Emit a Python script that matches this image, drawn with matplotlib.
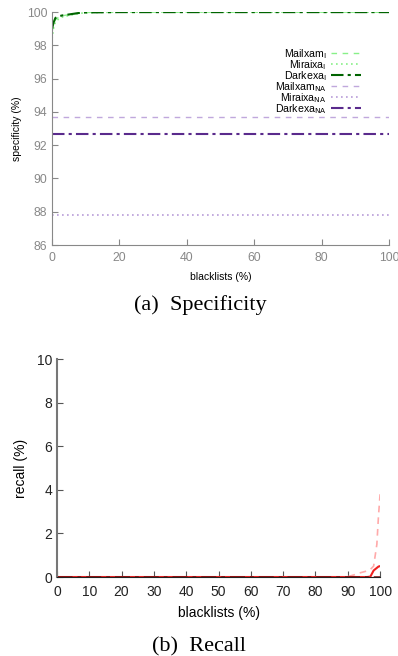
import matplotlib
matplotlib.use("Agg")
import matplotlib.pyplot as plt

plt.rcParams['font.family'] = ['Liberation Sans', 'DejaVu Sans']

# Specificity (a)
x_spec = [0, 0.5, 1, 2, 3, 5, 8, 10, 20, 40, 60, 80, 100]
mailxam_i = [98.8, 99.3, 99.55, 99.7, 99.78, 99.85, 99.95, 99.98, 100, 100, 100, 100, 100]
miraixa_i = [98.4, 99.1, 99.4, 99.6, 99.7, 99.8, 99.92, 99.97, 100, 100, 100, 100, 100]
darkexa_i = [99.0, 99.4, 99.65, 99.75, 99.8, 99.86, 99.95, 99.98, 100, 100, 100, 100, 100]
mailxam_na = [93.7] * len(x_spec)
miraixa_na = [87.8] * len(x_spec)
darkexa_na = [92.7] * len(x_spec)

# Recall (b)
x_rec = [0, 10, 20, 30, 40, 50, 60, 70, 80, 85, 88, 90, 92, 94, 96, 97, 98, 99, 99.5, 100]
recall_dashed = [0, 0, 0, 0, 0, 0, 0, 0, 0, 0, 0, 0.02, 0.1, 0.2, 0.28, 0.35, 0.5, 1.5, 2.8, 3.8]
recall_solid = [0, 0, 0, 0, 0, 0, 0, 0, 0, 0, 0, 0, 0, 0, 0, 0.02, 0.3, 0.42, 0.48, 0.5]
recall_dashdot = [0] * len(x_rec)

fig = plt.figure(figsize=(3.98, 6.56), dpi=100)

# ---- (a) Specificity ----
ax1 = fig.add_axes([0.1307, 0.6265, 0.847, 0.355])
ax1.plot(x_spec, mailxam_i, color='#88f088', ls=(0, (4, 4)), lw=1.0, label='Mailxam$_\\mathrm{I}$')
ax1.plot(x_spec, miraixa_i, color='#88f088', ls=(0, (1, 2)), lw=1.2, label='Miraixa$_\\mathrm{I}$')
ax1.plot(x_spec, darkexa_i, color='#006400', ls=(0, (6, 2, 1.5, 2)), lw=1.5, label='Darkexa$_\\mathrm{I}$')
ax1.plot(x_spec, mailxam_na, color='#c0a8dc', ls=(0, (4, 4)), lw=1.0, label='Mailxam$_\\mathrm{NA}$')
ax1.plot(x_spec, miraixa_na, color='#b89cd8', ls=(0, (1, 2)), lw=1.2, label='Miraixa$_\\mathrm{NA}$')
ax1.plot(x_spec, darkexa_na, color='#5a2a8c', ls=(0, (6, 2, 1.5, 2)), lw=1.5, label='Darkexa$_\\mathrm{NA}$')

ax1.set_xlim(0, 100)
ax1.set_ylim(86, 100)
ax1.set_xticks(range(0, 101, 20))
ax1.set_yticks(range(86, 101, 2))
ax1.tick_params(direction='in', length=4, labelsize=8.8, colors='#888888', labelcolor='#888888')
ax1.tick_params(axis='x', pad=5)
for s in ['top', 'right']:
    ax1.spines[s].set_visible(False)
for s in ['left', 'bottom']:
    ax1.spines[s].set_color('#888888')
ax1.set_xlabel('blacklists (%)', fontsize=7.5, labelpad=6)
ax1.set_ylabel('specificity (%)', fontsize=7.5, labelpad=3)
leg = ax1.legend(loc='upper right', bbox_to_anchor=(0.929, 0.868), borderaxespad=0,
                 frameon=False, markerfirst=False, fontsize=7.6, handlelength=2.8,
                 handletextpad=0.45, labelspacing=-0.27)

fig.text(0.503, 0.535, '(a)  Specificity', family='Liberation Serif', fontsize=16,
         ha='center', va='center')

# ---- (b) Recall ----
ax2 = fig.add_axes([0.143, 0.1204, 0.812, 0.332])
ax2.plot(x_rec, recall_dashed, color='#ffaaaa', ls=(0, (4, 3)), lw=1.2)
ax2.plot(x_rec, recall_solid, color='#ee2020', ls='-', lw=1.5)
ax2.plot(x_rec, recall_dashdot, color='#7a0a0a', ls=(0, (6, 2, 1.5, 2)), lw=1.8)

ax2.set_xlim(0, 100)
ax2.set_ylim(0, 10)
ax2.set_xticks(range(0, 101, 10))
ax2.set_yticks(range(0, 11, 2))
ax2.tick_params(direction='in', length=4, labelsize=10, colors='#555555', labelcolor='#222222')
ax2.tick_params(axis='x', pad=6)
for s in ['top', 'right']:
    ax2.spines[s].set_visible(False)
ax2.spines['left'].set_color('#777777')
ax2.spines['left'].set_linewidth(1.5)
ax2.spines['bottom'].set_color('#222222')
ax2.set_xlabel('blacklists (%)', fontsize=10, labelpad=5)
ax2.set_ylabel('recall (%)', fontsize=10, labelpad=6)

fig.text(0.5, 0.014, '(b)  Recall', family='Liberation Serif', fontsize=16,
         ha='center', va='center')

fig.savefig('out.png', dpi=100)
